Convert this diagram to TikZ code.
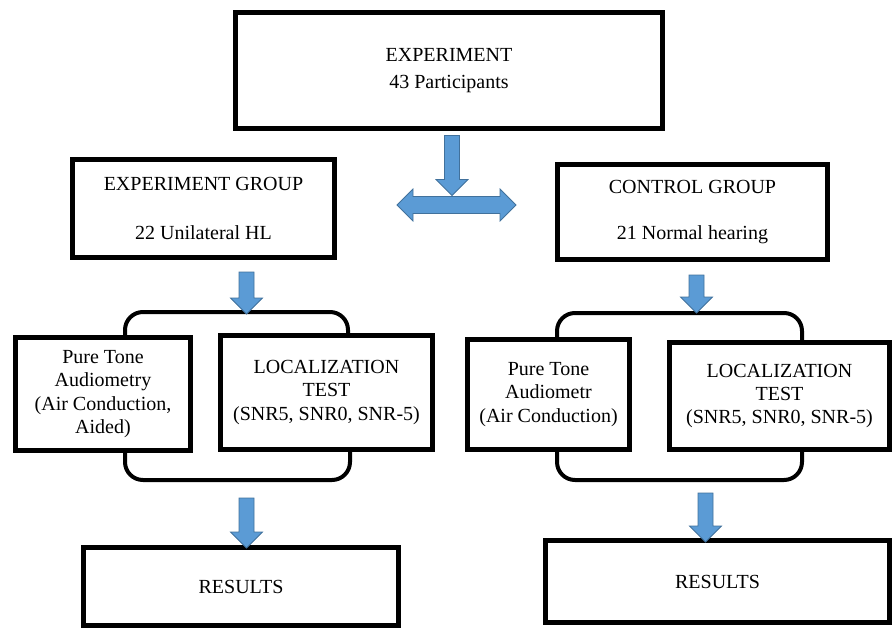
\documentclass[tikz,border=0pt]{standalone}
\usepackage{fontspec}
\setmainfont{Liberation Serif}[Ligatures=TeX]
\usetikzlibrary{backgrounds}
\definecolor{arrowblue}{HTML}{5B9BD5}
\definecolor{arrowedge}{HTML}{41719C}

\begin{document}
\begin{tikzpicture}[x=1pt, y=1pt,
      box/.style={draw, line width=5pt, fill=white, align=center, inner sep=0pt,
                  font=\fontsize{20}{23.5}\selectfont},
      bracket/.style={draw, line width=4pt, rounded corners=18pt},
      fat/.style={fill=arrowblue, draw=arrowedge, line width=0.8pt},
      pics/dnarrow/.style={code={
        \path[fat] (-7.5,0) -- (7.5,0) -- (7.5,{16-#1}) -- (16,{16-#1}) -- (0,-#1)
          -- (-16,{16-#1}) -- (-7.5,{16-#1}) -- cycle;}}]
    \useasboundingbox (0,0) rectangle (893,-629);
    % top level
    \node[box, minimum width=427pt, minimum height=116pt] (exp) at (449,-70.5)
      {EXPERIMENT\\[3pt]43 Participants};
    \node[box, minimum width=262pt, minimum height=98pt] (expgrp) at (203.5,-208.5)
      {EXPERIMENT GROUP\\[25pt]22 Unilateral HL};
    \node[box, minimum width=270pt, minimum height=95pt] (ctlgrp) at (692.5,-212)
      {CONTROL GROUP\\[23pt]21 Normal hearing};
    % tests
    \node[box, minimum width=175pt, minimum height=113pt] (ptL) at (103,-394)
      {Pure Tone\\Audiometry\\(Air Conduction,\\Aided)};
    \node[box, minimum width=212pt, minimum height=114pt] (locL) at (326.5,-392.5)
      {LOCALIZATION\\TEST\\(SNR5, SNR0, SNR-5)};
    \node[box, minimum width=162pt, minimum height=110pt] (ptR) at (548.5,-394.5)
      {Pure Tone\\Audiometr\\(Air Conduction)};
    \node[box, minimum width=220pt, minimum height=107pt] (locR) at (779.5,-396)
      {LOCALIZATION\\TEST\\(SNR5, SNR0, SNR-5)};
    % results
    \node[box, minimum width=315pt, minimum height=78pt] (resL) at (241,-586.5) {RESULTS};
    \node[box, minimum width=344pt, minimum height=82pt] (resR) at (717.5,-581.5) {RESULTS};
    % brackets behind the test boxes
    \begin{scope}[on background layer]
      \draw[bracket] (125,-340) -- (125,-312) -- (348,-312) -- (348,-340);
      \draw[bracket] (125,-450) -- (125,-480) -- (350,-480) -- (350,-450);
      \draw[bracket] (557,-340) -- (557,-313) -- (802,-313) -- (802,-340);
      \draw[bracket] (557,-450) -- (557,-480) -- (802,-480) -- (802,-450);
    \end{scope}
    % blue arrows
    \pic (split) at ([xshift=3pt, yshift=-4.5pt]exp.south) {dnarrow=60};
    \path[fat] (397,-205) -- (413,-189) -- (413,-196.5) -- (500,-196.5) -- (500,-189)
      -- (516,-205) -- (500,-221) -- (500,-213.5) -- (413,-213.5) -- (413,-221) -- cycle;
    \pic (toL) at (246.5,-272) {dnarrow=42};
    \pic (toR) at (696.5,-275) {dnarrow=38};
    \pic (resArrL) at (246.5,-498) {dnarrow=50};
    \pic (resArrR) at (705.5,-493) {dnarrow=49};
  \end{tikzpicture}
\end{document}
